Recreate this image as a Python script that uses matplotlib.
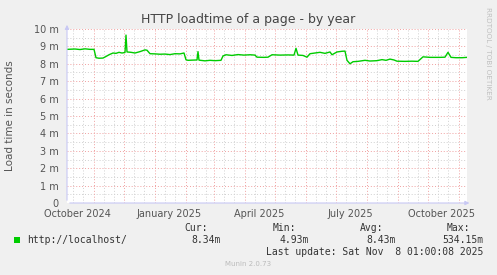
import matplotlib
matplotlib.use("Agg")
import matplotlib.pyplot as plt
import matplotlib.dates as mdates
import numpy as np
import datetime as dt

# ---- data (values in milliseconds "m") ----
day_offsets = [0, 8, 13, 18, 23, 27, 29, 32, 36, 39, 42, 46, 49, 52, 55, 58, 59, 60, 64, 68,
               73, 78, 80, 83, 88, 93, 98, 103, 108, 113, 117, 119, 121, 125, 130, 131, 132,
               138, 143, 148, 154, 156, 159, 165, 171, 177, 183, 188, 190, 197, 201, 205, 213,
               221, 227, 229, 231, 236, 240, 243, 248, 253, 258, 263, 265, 270, 275, 278, 280,
               283, 286, 291, 298, 303, 310, 315, 319, 323, 327, 330, 338, 345, 351, 356, 363,
               373, 378, 381, 384, 389, 395, 400]
load_ms = [8.83, 8.85, 8.82, 8.86, 8.83, 8.83, 8.35, 8.32, 8.33, 8.42, 8.52, 8.62, 8.60, 8.66,
           8.62, 8.65, 9.65, 8.68, 8.66, 8.62, 8.70, 8.80, 8.78, 8.58, 8.57, 8.55, 8.56, 8.53,
           8.58, 8.57, 8.62, 8.23, 8.20, 8.21, 8.22, 8.70, 8.21, 8.17, 8.20, 8.18, 8.20, 8.45,
           8.52, 8.48, 8.53, 8.50, 8.52, 8.50, 8.38, 8.37, 8.38, 8.52, 8.50, 8.51, 8.50, 8.89,
           8.50, 8.48, 8.38, 8.58, 8.62, 8.66, 8.60, 8.68, 8.52, 8.68, 8.72, 8.73, 8.20, 8.00,
           8.12, 8.14, 8.20, 8.16, 8.18, 8.24, 8.20, 8.27, 8.22, 8.15, 8.14, 8.15, 8.14, 8.40,
           8.37, 8.37, 8.38, 8.66, 8.37, 8.35, 8.35, 8.37]
y_ticks = [0, 1, 2, 3, 4, 5, 6, 7, 8, 9, 10]
y_tick_labels = ["0", "1 m", "2 m", "3 m", "4 m", "5 m", "6 m", "7 m", "8 m", "9 m", "10 m"]
x_label_dates = ["2024-10-15", "2025-01-15", "2025-04-15", "2025-07-15", "2025-10-15"]
x_labels = ["October 2024", "January 2025", "April 2025", "July 2025", "October 2025"]
legend_name = "http://localhost/"
stats_heads = ["Cur:", "Min:", "Avg:", "Max:"]
stats_vals = ["8.34m", "4.93m", "8.43m", "534.15m"]

start = dt.datetime(2024, 10, 5)
end = start + dt.timedelta(days=400)
dates = [start + dt.timedelta(days=d) for d in day_offsets]

W, H = 497, 275
fig = plt.figure(figsize=(W / 100, H / 100), dpi=100, facecolor="#F0F0F0")

def fx(x):
    return x / W

def fy(y):
    return 1 - y / H

L, R, T, B = 67, 467, 29, 203
ax = fig.add_axes([fx(L), fy(B), (R - L) / W, (B - T) / H])
ax.set_facecolor("white")
ax.set_xlim(start, end)
ax.set_ylim(0, 10)

# grid
major_c = "#F0A0A0"
minor_c = "#D0D0D0"
for v in np.arange(0.5, 10, 1.0):
    ax.axhline(v, color=minor_c, lw=0.7, ls=(0, (1, 2)), zorder=1)
for v in range(1, 11):
    ax.axhline(v, color=major_c, lw=0.7, ls=(0, (1, 2)), zorder=1)
minor_days = mdates.DayLocator(bymonthday=[11, 21]).tick_values(start, end)
for d in minor_days:
    ax.axvline(d, color=minor_c, lw=0.7, ls=(0, (1, 2)), zorder=1)
month_days = mdates.MonthLocator().tick_values(start, end)
for d in month_days:
    ax.axvline(d, color=major_c, lw=0.7, ls=(0, (1, 2)), zorder=1)

ax.plot(dates, load_ms, color="#00CC00", lw=1.0, zorder=3)

for s in ax.spines.values():
    s.set_visible(False)
ax.set_yticks(y_ticks)
ax.set_yticklabels(y_tick_labels)
ax.tick_params(axis="y", length=0, pad=6, labelsize=7, labelcolor="#555555")
ax.set_xticks([mdates.datestr2num(d) for d in x_label_dates])
ax.set_xticklabels(x_labels)
ax.tick_params(axis="x", length=0, pad=4, labelsize=7, labelcolor="#555555")

# axes with arrows
axis_c = "#C8C8F4"
ax.annotate("", xy=(0, 1.04), xytext=(0, 0), xycoords="axes fraction",
            arrowprops=dict(arrowstyle="-|>", color=axis_c, lw=0.8, mutation_scale=6))
ax.annotate("", xy=(1.013, 0), xytext=(0, 0), xycoords="axes fraction",
            arrowprops=dict(arrowstyle="-|>", color=axis_c, lw=0.8, mutation_scale=6))

# texts
fig.text(fx(248), fy(19), "HTTP loadtime of a page - by year", ha="center", va="center",
         fontsize=9, color="#444444")
fig.text(fx(10), fy(116), "Load time in seconds", rotation=90, ha="center", va="center",
         fontsize=7.5, color="#555555")
fig.text(fx(488), fy(53), "RRDTOOL / TOBI OETIKER", rotation=270, ha="center", va="center",
         fontsize=5.2, color="#C0C0C0")

mono = "DejaVu Sans Mono"
fig.patches.append(plt.Rectangle((fx(14), fy(243)), 6 / W, 6 / H, transform=fig.transFigure,
                                 facecolor="#00CC00", edgecolor="none"))
fig.text(fx(27), fy(240), legend_name, ha="left", va="center", family=mono, fontsize=7,
         color="#333333")
head_x = [208, 296, 383, 470]
val_x = [221, 309, 396, 483]
for hx, h in zip(head_x, stats_heads):
    fig.text(fx(hx), fy(228), h, ha="right", va="center", family=mono, fontsize=7, color="#333333")
for vx, v in zip(val_x, stats_vals):
    fig.text(fx(vx), fy(240), v, ha="right", va="center", family=mono, fontsize=7, color="#333333")
fig.text(fx(483), fy(252), "Last update: Sat Nov  8 01:00:08 2025", ha="right", va="center",
         family=mono, fontsize=7, color="#333333")
fig.text(fx(248), fy(264), "Munin 2.0.73", ha="center", va="center", fontsize=5,
         color="#BBBBBB")

fig.savefig("out.png", dpi=100, facecolor=fig.get_facecolor())
